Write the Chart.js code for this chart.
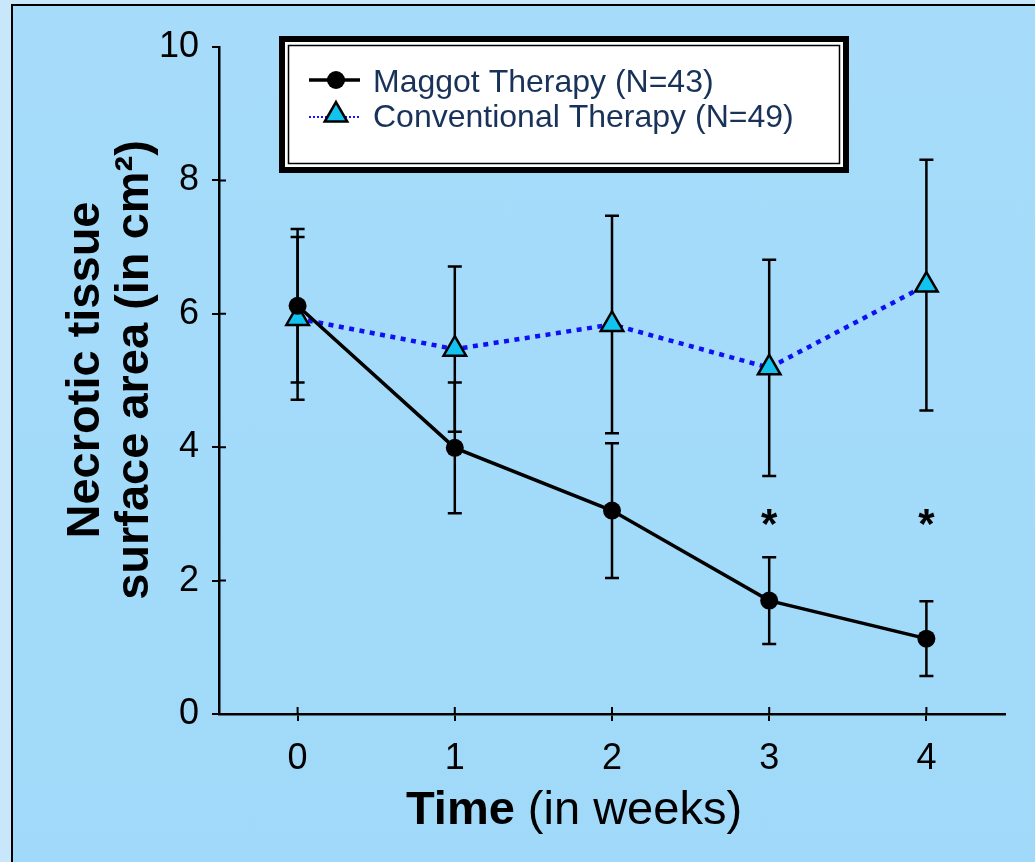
<!DOCTYPE html>
<html>
<head>
<meta charset="utf-8">
<script src="https://cdn.jsdelivr.net/npm/chart.js@4.4.0/dist/chart.umd.min.js"></script>
<style>
  html, body { margin: 0; padding: 0; width: 1035px; height: 862px; overflow: hidden; background: #c9e7fb; }
  #panel { position: absolute; left: 11px; top: 4px; width: 1100px; height: 900px; border: 2.5px solid #000;
           background: linear-gradient(180deg, #a6dcfa 0%, #a0d9f9 100%); }
  #myChart { position: absolute; left: 0; top: 0; }
</style>
</head>
<body>
<div id="panel"></div>
<canvas id="myChart" width="1035" height="862"></canvas>
<script>
const weeks = [0, 1, 2, 3, 4];
const maggotMean = [6.12, 3.99, 3.05, 1.70, 1.13];
const maggotSD = [1.15, 0.98, 1.01, 0.65, 0.56];
const conventionalMean = [5.93, 5.47, 5.84, 5.19, 6.43];
const conventionalSD = [1.22, 1.24, 1.63, 1.62, 1.88];
const yTicks = [0, 2, 4, 6, 8, 10];
const starWeeks = [3, 4];   // significant difference
const starLevel = 2.9;
const seriesLabels = ['Maggot Therapy (N=43)', 'Conventional Therapy (N=49)'];

const FONT = "'Liberation Sans', Arial, sans-serif";

// vertical bars of +/- SD, drawn under the markers
const errorBars = {
  id: 'errorBars',
  beforeDatasetsDraw(chart) {
    const { ctx, scales: { x, y } } = chart;
    const sets = [[maggotMean, maggotSD], [conventionalMean, conventionalSD]];
    ctx.save();
    ctx.strokeStyle = '#000';
    ctx.lineWidth = 2.5;
    sets.forEach(([m, sd]) => {
      weeks.forEach((w, i) => {
        const px = x.getPixelForValue(w);
        const top = y.getPixelForValue(m[i] + sd[i]);
        const bot = y.getPixelForValue(m[i] - sd[i]);
        ctx.beginPath();
        ctx.moveTo(px, top); ctx.lineTo(px, bot);
        ctx.moveTo(px - 7, top); ctx.lineTo(px + 7, top);
        ctx.moveTo(px - 7, bot); ctx.lineTo(px + 7, bot);
        ctx.stroke();
      });
    });
    ctx.restore();
  }
};

function drawMarker(ctx, style, cx, cy) {
  ctx.save();
  if (style === 'circle') {
    ctx.fillStyle = '#000';
    ctx.beginPath();
    ctx.arc(cx, cy, 9, 0, Math.PI * 2);
    ctx.fill();
  } else {
    const r = 13;
    ctx.fillStyle = '#12c3f0';
    ctx.strokeStyle = '#000';
    ctx.lineWidth = 2.5;
    ctx.beginPath();
    ctx.moveTo(cx, cy - r);
    ctx.lineTo(cx + r * Math.sin(2 * Math.PI / 3), cy + r / 2);
    ctx.lineTo(cx - r * Math.sin(2 * Math.PI / 3), cy + r / 2);
    ctx.closePath();
    ctx.fill();
    ctx.stroke();
  }
  ctx.restore();
}

const decorations = {
  id: 'decorations',
  afterDraw(chart) {
    const { ctx, chartArea, scales: { x, y } } = chart;
    ctx.save();

    // inner halves of the tick marks
    ctx.strokeStyle = '#000';
    ctx.lineWidth = 2;
    ctx.beginPath();
    yTicks.slice(1, -1).forEach(v => {
      const py = y.getPixelForValue(v);
      ctx.moveTo(chartArea.left, py); ctx.lineTo(chartArea.left + 7, py);
    });
    weeks.forEach(w => {
      const px = x.getPixelForValue(w);
      ctx.moveTo(px, chartArea.bottom); ctx.lineTo(px, chartArea.bottom - 7);
    });
    ctx.stroke();

    // asterisks
    ctx.fillStyle = '#000';
    ctx.font = 'bold 42px ' + FONT;
    ctx.textAlign = 'center';
    ctx.textBaseline = 'middle';
    starWeeks.forEach(w => {
      ctx.fillText('*', x.getPixelForValue(w), y.getPixelForValue(starLevel) + 6);
    });

    // y axis title
    ctx.save();
    ctx.translate(0, 370);
    ctx.rotate(-Math.PI / 2);
    ctx.font = 'bold 47px ' + FONT;
    ctx.textAlign = 'center';
    ctx.textBaseline = 'alphabetic';
    ctx.fillText('Necrotic tissue', 0, 99);
    ctx.fillText('surface area (in cm\u00B2)', 0, 148);
    ctx.restore();

    // x axis title: bold "Time" + regular "(in weeks)"
    ctx.textAlign = 'left';
    ctx.textBaseline = 'alphabetic';
    ctx.font = 'bold 47px ' + FONT;
    const w1 = ctx.measureText('Time').width;
    ctx.font = '47px ' + FONT;
    const w2 = ctx.measureText(' (in weeks)').width;
    const x0 = 574 - (w1 + w2) / 2;
    ctx.font = 'bold 47px ' + FONT;
    ctx.fillText('Time', x0, 824);
    ctx.font = '47px ' + FONT;
    ctx.fillText(' (in weeks)', x0 + w1, 824);

    // legend box with double border
    const bx = 279, by = 36, bw = 570, bh = 137;
    ctx.fillStyle = '#000';
    ctx.fillRect(bx, by, bw, bh);
    ctx.fillStyle = '#fff';
    ctx.fillRect(bx + 6, by + 6, bw - 12, bh - 12);
    ctx.strokeStyle = '#000';
    ctx.lineWidth = 1.5;
    ctx.strokeRect(bx + 9.5, by + 9.5, bw - 19, bh - 19);

    const rows = [
      { y: 80, base: 92, color: '#000', width: 3.5, dash: [], marker: 'circle' },
      { y: 117, base: 127, color: '#1515ff', width: 2, dash: [2, 2], marker: 'triangle' }
    ];
    rows.forEach((r, i) => {
      ctx.strokeStyle = r.color;
      ctx.lineWidth = r.width;
      ctx.setLineDash(r.dash);
      ctx.beginPath();
      ctx.moveTo(309, r.y); ctx.lineTo(360, r.y);
      ctx.stroke();
      ctx.setLineDash([]);
      drawMarker(ctx, r.marker, 336, r.y - (r.marker === 'triangle' ? 2 : 0));
      ctx.fillStyle = '#18325a';
      ctx.font = '32px ' + FONT;
      ctx.fillText(chart.data.datasets[i].label, 373, r.base);
    });

    ctx.restore();
  }
};

const data = {
  datasets: [
    {
      label: seriesLabels[0],
      data: weeks.map((w, i) => ({ x: w, y: maggotMean[i] })),
      borderColor: '#000',
      borderWidth: 3.5,
      pointStyle: 'circle',
      pointRadius: 9,
      pointBackgroundColor: '#000',
      pointBorderColor: '#000',
      pointBorderWidth: 0
    },
    {
      label: seriesLabels[1],
      data: weeks.map((w, i) => ({ x: w, y: conventionalMean[i] })),
      borderColor: '#1010f5',
      borderWidth: 4.5,
      borderDash: [5, 5.5],
      pointStyle: 'triangle',
      pointRadius: 13,
      pointBackgroundColor: '#12c3f0',
      pointBorderColor: '#000',
      pointBorderWidth: 2.5
    }
  ]
};

const config = {
  type: 'line',
  data: data,
  options: {
    responsive: false,
    animation: false,
    layout: { padding: { left: 0, right: 30, top: 47, bottom: 0 } },
    plugins: { legend: { display: false }, tooltip: { enabled: false } },
    scales: {
      x: {
        type: 'linear',
        min: -0.5,
        max: 4.5,
        afterBuildTicks: scale => { scale.ticks = weeks.map(v => ({ value: v })); },
        afterFit: scale => { scale.height = 148; },
        ticks: { font: { family: FONT, size: 36 }, color: '#000', padding: 16 },
        grid: { drawOnChartArea: false, drawTicks: true, tickLength: 7, color: '#000', lineWidth: 2 },
        border: { color: '#000', width: 2.5 }
      },
      y: {
        min: 0,
        max: 10,
        afterBuildTicks: scale => { scale.ticks = yTicks.map(v => ({ value: v })); },
        afterFit: scale => { scale.width = 219; },
        ticks: { font: { family: FONT, size: 36 }, color: '#000', padding: 13 },
        grid: { drawOnChartArea: false, drawTicks: true, tickLength: 7, color: '#000', lineWidth: 2 },
        border: { color: '#000', width: 2.5 }
      }
    }
  },
  plugins: [errorBars, decorations]
};

const myChart = new Chart(document.getElementById('myChart'), config);
</script>
</body>
</html>
